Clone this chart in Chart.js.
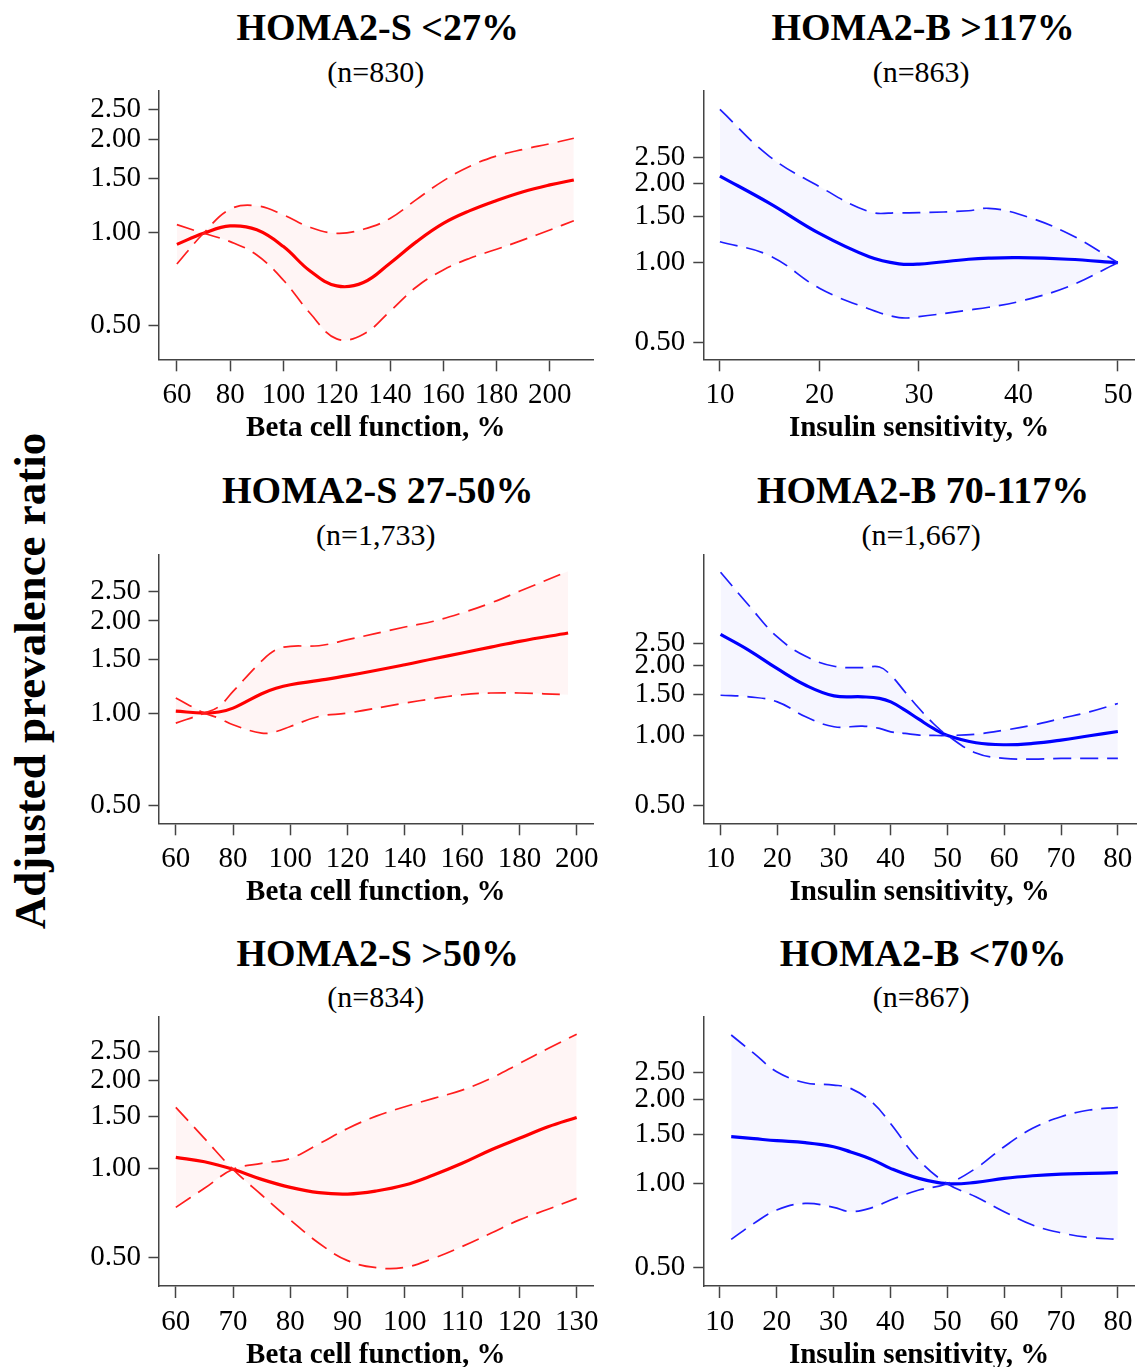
<!DOCTYPE html>
<html>
<head>
<meta charset="utf-8">
<title>Adjusted prevalence ratio panels</title>
<script src="https://cdn.jsdelivr.net/npm/chart.js@4.4.1/dist/chart.umd.min.js"></script>
<style>
  html, body { margin: 0; padding: 0; background: #fff; overflow: hidden; }
  body { width: 1142px; height: 1367px; position: relative; font-family: 'Liberation Serif', 'Times New Roman', serif; color: #000; }
  canvas { position: absolute; }
  .ttl { position: absolute; width: 520px; text-align: center; font-weight: bold; font-size: 38px; line-height: 1; white-space: nowrap; }
  .sub { position: absolute; width: 520px; text-align: center; font-size: 30px; line-height: 1; white-space: nowrap; }
  #ylab { position: absolute; left: 30px; top: 681px; font-weight: bold; font-size: 45px; line-height: 1; white-space: nowrap;
          transform: translate(-50%, -50%) rotate(-90deg); }
</style>
</head>
<body>
<div id="ylab">Adjusted prevalence ratio</div>
<script>
// ---- data (y = prevalence ratio, log axis) ----
const titles  = ['HOMA2-S <27%', 'HOMA2-B >117%', 'HOMA2-S 27-50%', 'HOMA2-B 70-117%', 'HOMA2-S >50%', 'HOMA2-B <70%'];
const nLabels = ['(n=830)', '(n=863)', '(n=1,733)', '(n=1,667)', '(n=834)', '(n=867)'];
const xTitles = ['Beta cell function, %', 'Insulin sensitivity, %'];
const yTicks  = [0.5, 1, 1.5, 2, 2.5];

// panel 1: HOMA2-S <27%
const p1X   = [60, 70, 80, 90, 100, 110, 120, 130, 140, 150, 160, 170, 180, 190, 200, 209];
const p1Fit = [0.915, 0.994, 1.05, 1.02, 0.90, 0.75, 0.671, 0.688, 0.795, 0.934, 1.07, 1.177, 1.27, 1.356, 1.426, 1.48];
const p1Up  = [0.79, 0.994, 1.19, 1.22, 1.14, 1.039, 0.994, 1.024, 1.11, 1.28, 1.47, 1.64, 1.77, 1.86, 1.94, 2.02];
const p1Low = [1.06, 0.994, 0.934, 0.845, 0.70, 0.547, 0.452, 0.468, 0.555, 0.667, 0.756, 0.825, 0.882, 0.946, 1.019, 1.092];
const p1Ticks = [60, 80, 100, 120, 140, 160, 180, 200];

// panel 2: HOMA2-B >117%
const p2X   = [10, 15, 20, 25, 28, 30, 35, 37, 40, 45, 50];
const p2Fit = [2.126, 1.676, 1.29, 1.053, 0.99, 0.988, 1.03, 1.04, 1.044, 1.03, 1.0];
const p2Up  = [3.80, 2.52, 1.94, 1.559, 1.545, 1.545, 1.572, 1.605, 1.528, 1.29, 1.0];
const p2Low = [1.20, 1.063, 0.80, 0.668, 0.62, 0.625, 0.662, 0.678, 0.712, 0.811, 1.0];
const p2Ticks = [10, 20, 30, 40, 50];

// panel 3: HOMA2-S 27-50%
const p3X   = [60, 70, 75, 80, 90, 95, 100, 110, 120, 140, 150, 160, 170, 180, 197];
const p3Fit = [1.015, 1.0, 1.008, 1.038, 1.157, 1.205, 1.238, 1.279, 1.325, 1.439, 1.505, 1.572, 1.643, 1.716, 1.827];
const p3Up  = [0.927, 1.0, 1.05, 1.177, 1.48, 1.61, 1.653, 1.66, 1.737, 1.911, 1.995, 2.125, 2.29, 2.50, 2.907];
const p3Low = [1.12, 1.0, 0.963, 0.916, 0.86, 0.87, 0.904, 0.975, 1.0, 1.078, 1.115, 1.148, 1.163, 1.163, 1.148];
const p3Ticks = [60, 80, 100, 120, 140, 160, 180, 200];

// panel 4: HOMA2-B 70-117%
const p4X   = [10, 15, 20, 25, 30, 35, 38, 40, 42.5, 45, 47.5, 50, 55, 60, 65, 70, 75, 80];
const p4Fit = [2.727, 2.328, 1.94, 1.646, 1.481, 1.467, 1.445, 1.395, 1.285, 1.172, 1.072, 1.0, 0.93, 0.912, 0.924, 0.955, 0.997, 1.04];
const p4Up  = [5.05, 3.63, 2.656, 2.193, 1.987, 1.96, 1.973, 1.817, 1.54, 1.306, 1.126, 1.0, 0.84, 0.796, 0.791, 0.796, 0.796, 0.796];
const p4Low = [1.49, 1.467, 1.396, 1.203, 1.09, 1.097, 1.072, 1.037, 1.02, 1.003, 1.0, 1.0, 1.013, 1.054, 1.108, 1.184, 1.264, 1.373];
const p4Ticks = [10, 20, 30, 40, 50, 60, 70, 80];

// panel 5: HOMA2-S >50%
const p5X   = [60, 65, 70, 75, 80, 85, 90, 95, 100, 105, 110, 115, 120, 125, 130];
const p5Fit = [1.093, 1.056, 0.995, 0.92, 0.864, 0.829, 0.82, 0.84, 0.88, 0.952, 1.043, 1.157, 1.268, 1.388, 1.493];
const p5Up  = [0.739, 0.858, 0.995, 1.043, 1.084, 1.214, 1.37, 1.509, 1.623, 1.733, 1.849, 2.026, 2.278, 2.562, 2.865];
const p5Low = [1.615, 1.268, 0.995, 0.814, 0.67, 0.558, 0.487, 0.461, 0.462, 0.496, 0.544, 0.603, 0.67, 0.728, 0.793];
const p5Ticks = [60, 70, 80, 90, 100, 110, 120, 130];

// panel 6: HOMA2-B <70%
const p6X   = [12, 16, 20, 25, 30, 33, 37, 40, 45, 50, 55, 60, 65, 70, 75, 80];
const p6Fit = [1.474, 1.45, 1.426, 1.403, 1.357, 1.30, 1.215, 1.135, 1.045, 1.0, 1.011, 1.045, 1.068, 1.083, 1.089, 1.095];
const p6Up  = [3.41, 2.93, 2.52, 2.30, 2.257, 2.196, 1.94, 1.645, 1.216, 1.0, 0.898, 0.794, 0.711, 0.667, 0.642, 0.632];
const p6Low = [0.632, 0.721, 0.805, 0.85, 0.823, 0.794, 0.823, 0.874, 0.949, 1.0, 1.135, 1.357, 1.579, 1.738, 1.837, 1.877];
const p6Ticks = [10, 20, 30, 40, 50, 60, 70, 80];

// ---- layout ----
const FONT = "'Liberation Serif', 'Times New Roman', serif";
Chart.defaults.font.family = FONT;
Chart.defaults.color = '#000';

const colLeft  = [60, 610];
const colWidth = [550, 532];
const yAxisW   = [98.5, 93.3];
const padRight = [17, 3];
const rowTop    = [91, 554.5, 1017];
const rowBottom = [359.3, 823.3, 1286];
const titleTop  = [7.5, 471, 933.5];
const subTop    = [57, 520, 982];
const colors = [
  { line: 'rgb(255,0,0)', dash: 'rgb(255,30,30)', fill: 'rgba(255,0,0,0.04)' },
  { line: 'rgb(0,0,255)', dash: 'rgb(30,30,255)', fill: 'rgba(0,0,255,0.035)' }
];

const panels = [
  { xs: p1X, fit: p1Fit, up: p1Up, low: p1Low, ticks: p1Ticks, xMin: 53.1, xMax: 216.2, yMin: 0.388, yMax: 2.875 },
  { xs: p2X, fit: p2Fit, up: p2Up, low: p2Low, ticks: p2Ticks, xMin: 8.33, xMax: 51.7, yMin: 0.431, yMax: 4.46 },
  { xs: p3X, fit: p3Fit, up: p3Up, low: p3Low, ticks: p3Ticks, xMin: 53.96, xMax: 205.7, yMin: 0.4365, yMax: 3.297 },
  { xs: p4X, fit: p4Fit, up: p4Up, low: p4Low, ticks: p4Ticks, xMin: 6.96, xMax: 83.2, yMin: 0.4184, yMax: 6.02 },
  { xs: p5X, fit: p5Fit, up: p5Up, low: p5Low, ticks: p5Ticks, xMin: 56.98, xMax: 132.85, yMin: 0.3994, yMax: 3.277 },
  { xs: p6X, fit: p6Fit, up: p6Up, low: p6Low, ticks: p6Ticks, xMin: 7.09, xMax: 82.97, yMin: 0.430, yMax: 3.957 }
];

panels.forEach((p, i) => {
  const col = i % 2, row = Math.floor(i / 2);
  const c = colors[col];
  const top = Math.round(rowTop[row]) - 25;
  const bottom = Math.round(rowBottom[row]) + 90;
  const padTop = rowTop[row] - top;
  const xH = bottom - rowBottom[row];
  const chartMid = colLeft[col] + yAxisW[col] + (colWidth[col] - yAxisW[col] - padRight[col]) / 2;

  // panel heading as html text
  const t = document.createElement('div');
  t.className = 'ttl'; t.textContent = titles[i];
  t.style.left = (chartMid - 258) + 'px'; t.style.top = titleTop[row] + 'px';
  document.body.appendChild(t);
  const s = document.createElement('div');
  s.className = 'sub'; s.textContent = nLabels[i];
  s.style.left = (chartMid - 260) + 'px'; s.style.top = subTop[row] + 'px';
  document.body.appendChild(s);

  const cv = document.createElement('canvas');
  cv.width = colWidth[col];
  cv.height = bottom - top;
  cv.style.left = colLeft[col] + 'px';
  cv.style.top = top + 'px';
  document.body.appendChild(cv);

  const pts = arr => p.xs.map((x, k) => ({ x: x, y: arr[k] }));
  const axisGrid = len => ({ display: true, drawOnChartArea: false, drawTicks: true, tickLength: len, tickWidth: 1.5, tickColor: '#444' });
  const axisBorder = { display: true, color: '#444', width: 1.5 };

  new Chart(cv, {
    type: 'line',
    data: {
      datasets: [
        { data: pts(p.up), borderColor: c.dash, borderWidth: 1.7, borderDash: [18, 9], fill: '+1', backgroundColor: c.fill },
        { data: pts(p.low), borderColor: c.dash, borderWidth: 1.7, borderDash: [18, 9], fill: false },
        { data: pts(p.fit), borderColor: c.line, borderWidth: 3.2, fill: false }
      ]
    },
    options: {
      responsive: false,
      animation: false,
      layout: { padding: { top: padTop, left: 0, right: padRight[col], bottom: 0 } },
      elements: { point: { radius: 0 }, line: { tension: 0.4 } },
      plugins: { legend: { display: false }, tooltip: { enabled: false } },
      scales: {
        x: {
          type: 'linear', min: p.xMin, max: p.xMax,
          afterBuildTicks: sc => { sc.ticks = p.ticks.map(v => ({ value: v })); },
          afterFit: sc => { sc.height = xH; },
          grid: axisGrid(12), border: axisBorder,
          ticks: { font: { size: 29, lineHeight: 1 }, color: '#000', padding: 9.5, maxRotation: 0, autoSkip: false, callback: v => v },
          title: { display: true, text: xTitles[col], color: '#000', font: { size: 29, weight: 'bold', lineHeight: 1.2 }, padding: { top: 0, bottom: 3.4 } }
        },
        y: {
          type: 'logarithmic', min: p.yMin, max: p.yMax,
          afterBuildTicks: sc => { sc.ticks = yTicks.map(v => ({ value: v })); },
          afterFit: sc => { sc.width = yAxisW[col]; },
          grid: axisGrid(10), border: axisBorder,
          ticks: { font: { size: 29, lineHeight: 1 }, color: '#000', padding: col ? 8 : 7.5, autoSkip: false, callback: v => Number(v).toFixed(2) }
        }
      }
    }
  });
});
</script>
</body>
</html>
